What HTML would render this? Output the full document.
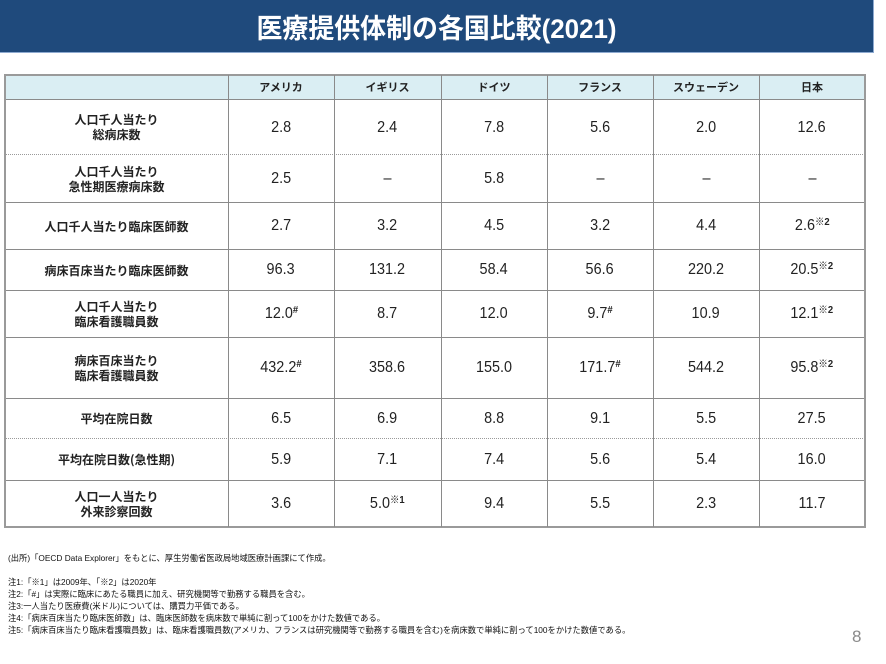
<!DOCTYPE html>
<html><head><meta charset="utf-8">
<style>
*{margin:0;padding:0;box-sizing:border-box}
body{width:886px;height:664px;background:#fff;position:relative;overflow:hidden;font-family:"Liberation Sans","Noto Sans CJK JP",sans-serif;color:#222}
.bar{position:absolute;left:0;top:0;width:874px;height:53px;background:#1f4a7c;border-right:1px solid #8eaad0;border-bottom:1px solid #8eaad0}
.title{position:absolute;left:0;top:0;width:873px;height:52px;display:flex;align-items:center;justify-content:center;color:#fff;font-weight:bold;font-size:27px;font-family:"Liberation Sans","Noto Sans CJK JP",sans-serif}
.title span{display:inline-block;transform:scaleX(0.96)}
.hdr{position:absolute;left:5px;top:75px;width:860px;height:24px;background:#daeef3}
.h{position:absolute;height:1px;background:#8a8a8a}
.d{position:absolute;height:0;border-top:1px dotted #9a9a9a}
.v{position:absolute;width:1px;background:#8a8a8a}
.c{position:absolute;display:flex;align-items:center;justify-content:center;text-align:center}
.lab{font-family:"Noto Sans CJK JP",sans-serif;font-weight:bold;font-size:12px;line-height:15px;color:#222}
.hd{font-family:"Noto Sans CJK JP",sans-serif;font-weight:bold;font-size:11px;color:#222}
.val{font-family:"Liberation Sans",sans-serif;font-size:16px;color:#222}
.val span{display:inline-block;transform:scaleX(0.9);white-space:nowrap}
.val sup{font-size:10.5px;font-weight:bold;vertical-align:top;line-height:1;position:relative;top:0px;font-family:"Liberation Sans","Noto Sans CJK JP",sans-serif}
.fn{position:absolute;left:8px;font-size:8.3px;line-height:11px;white-space:nowrap;color:#111;font-family:"Liberation Sans","Noto Sans CJK JP",sans-serif}
.pg{position:absolute;left:852px;top:627px;font-size:17px;color:#8a8a8a;font-family:"Liberation Sans",sans-serif}
</style></head><body>
<div class="bar"></div>
<div class="title"><span>医療提供体制の各国比較(2021)</span></div>

<div class="hdr"></div>
<div class="h" style="left:5px;top:74px;width:861px;height:2px;background:#9a9a9a"></div>
<div class="h" style="left:5px;top:99px;width:860px"></div>
<div class="d" style="left:5px;top:154px;width:860px"></div>
<div class="h" style="left:5px;top:202px;width:860px"></div>
<div class="h" style="left:5px;top:249px;width:860px"></div>
<div class="h" style="left:5px;top:290px;width:860px"></div>
<div class="h" style="left:5px;top:337px;width:860px"></div>
<div class="h" style="left:5px;top:398px;width:860px"></div>
<div class="d" style="left:5px;top:438px;width:860px"></div>
<div class="h" style="left:5px;top:480px;width:860px"></div>
<div class="h" style="left:5px;top:526px;width:861px;height:2px;background:#9a9a9a"></div>
<div class="v" style="left:4px;top:74px;width:2px;background:#9a9a9a;height:454px"></div>
<div class="v" style="left:228px;top:75px;height:452px"></div>
<div class="v" style="left:334px;top:75px;height:452px"></div>
<div class="v" style="left:441px;top:75px;height:452px"></div>
<div class="v" style="left:547px;top:75px;height:452px"></div>
<div class="v" style="left:653px;top:75px;height:452px"></div>
<div class="v" style="left:759px;top:75px;height:452px"></div>
<div class="v" style="left:864px;top:74px;height:454px;width:2px;background:#9a9a9a"></div>

<div class="c hd" style="left:228px;top:75px;width:106px;height:24px">アメリカ</div>
<div class="c hd" style="left:334px;top:75px;width:107px;height:24px">イギリス</div>
<div class="c hd" style="left:441px;top:75px;width:106px;height:24px">ドイツ</div>
<div class="c hd" style="left:547px;top:75px;width:106px;height:24px">フランス</div>
<div class="c hd" style="left:653px;top:75px;width:106px;height:24px">スウェーデン</div>
<div class="c hd" style="left:759px;top:75px;width:106px;height:24px">日本</div>

<div class="c lab" style="left:5px;top:100px;width:223px;height:54px">人口千人当たり<br>総病床数</div>
<div class="c lab" style="left:5px;top:155px;width:223px;height:47px">人口千人当たり<br>急性期医療病床数</div>
<div class="c lab" style="left:5px;top:203px;width:223px;height:46px">人口千人当たり臨床医師数</div>
<div class="c lab" style="left:5px;top:250px;width:223px;height:40px">病床百床当たり臨床医師数</div>
<div class="c lab" style="left:5px;top:291px;width:223px;height:46px">人口千人当たり<br>臨床看護職員数</div>
<div class="c lab" style="left:5px;top:338px;width:223px;height:60px">病床百床当たり<br>臨床看護職員数</div>
<div class="c lab" style="left:5px;top:399px;width:223px;height:39px">平均在院日数</div>
<div class="c lab" style="left:5px;top:439px;width:223px;height:41px">平均在院日数(急性期)</div>
<div class="c lab" style="left:5px;top:481px;width:223px;height:45px">人口一人当たり<br>外来診察回数</div>

<div class="c val" style="left:228px;top:101px;width:106px;height:54px"><span>2.8</span></div>
<div class="c val" style="left:334px;top:101px;width:107px;height:54px"><span>2.4</span></div>
<div class="c val" style="left:441px;top:101px;width:106px;height:54px"><span>7.8</span></div>
<div class="c val" style="left:547px;top:101px;width:106px;height:54px"><span>5.6</span></div>
<div class="c val" style="left:653px;top:101px;width:106px;height:54px"><span>2.0</span></div>
<div class="c val" style="left:759px;top:101px;width:106px;height:54px"><span>12.6</span></div>

<div class="c val" style="left:228px;top:155px;width:106px;height:47px"><span>2.5</span></div>
<div class="c val" style="left:334px;top:155px;width:107px;height:47px"><span>–</span></div>
<div class="c val" style="left:441px;top:155px;width:106px;height:47px"><span>5.8</span></div>
<div class="c val" style="left:547px;top:155px;width:106px;height:47px"><span>–</span></div>
<div class="c val" style="left:653px;top:155px;width:106px;height:47px"><span>–</span></div>
<div class="c val" style="left:759px;top:155px;width:106px;height:47px"><span>–</span></div>

<div class="c val" style="left:228px;top:203px;width:106px;height:46px"><span>2.7</span></div>
<div class="c val" style="left:334px;top:203px;width:107px;height:46px"><span>3.2</span></div>
<div class="c val" style="left:441px;top:203px;width:106px;height:46px"><span>4.5</span></div>
<div class="c val" style="left:547px;top:203px;width:106px;height:46px"><span>3.2</span></div>
<div class="c val" style="left:653px;top:203px;width:106px;height:46px"><span>4.4</span></div>
<div class="c val" style="left:759px;top:203px;width:106px;height:46px"><span>2.6<sup>※2</sup></span></div>

<div class="c val" style="left:228px;top:250px;width:106px;height:40px"><span>96.3</span></div>
<div class="c val" style="left:334px;top:250px;width:107px;height:40px"><span>131.2</span></div>
<div class="c val" style="left:441px;top:250px;width:106px;height:40px"><span>58.4</span></div>
<div class="c val" style="left:547px;top:250px;width:106px;height:40px"><span>56.6</span></div>
<div class="c val" style="left:653px;top:250px;width:106px;height:40px"><span>220.2</span></div>
<div class="c val" style="left:759px;top:250px;width:106px;height:40px"><span>20.5<sup>※2</sup></span></div>

<div class="c val" style="left:228px;top:291px;width:106px;height:46px"><span>12.0<sup>#</sup></span></div>
<div class="c val" style="left:334px;top:291px;width:107px;height:46px"><span>8.7</span></div>
<div class="c val" style="left:441px;top:291px;width:106px;height:46px"><span>12.0</span></div>
<div class="c val" style="left:547px;top:291px;width:106px;height:46px"><span>9.7<sup>#</sup></span></div>
<div class="c val" style="left:653px;top:291px;width:106px;height:46px"><span>10.9</span></div>
<div class="c val" style="left:759px;top:291px;width:106px;height:46px"><span>12.1<sup>※2</sup></span></div>

<div class="c val" style="left:228px;top:338px;width:106px;height:60px"><span>432.2<sup>#</sup></span></div>
<div class="c val" style="left:334px;top:338px;width:107px;height:60px"><span>358.6</span></div>
<div class="c val" style="left:441px;top:338px;width:106px;height:60px"><span>155.0</span></div>
<div class="c val" style="left:547px;top:338px;width:106px;height:60px"><span>171.7<sup>#</sup></span></div>
<div class="c val" style="left:653px;top:338px;width:106px;height:60px"><span>544.2</span></div>
<div class="c val" style="left:759px;top:338px;width:106px;height:60px"><span>95.8<sup>※2</sup></span></div>

<div class="c val" style="left:228px;top:399px;width:106px;height:39px"><span>6.5</span></div>
<div class="c val" style="left:334px;top:399px;width:107px;height:39px"><span>6.9</span></div>
<div class="c val" style="left:441px;top:399px;width:106px;height:39px"><span>8.8</span></div>
<div class="c val" style="left:547px;top:399px;width:106px;height:39px"><span>9.1</span></div>
<div class="c val" style="left:653px;top:399px;width:106px;height:39px"><span>5.5</span></div>
<div class="c val" style="left:759px;top:399px;width:106px;height:39px"><span>27.5</span></div>

<div class="c val" style="left:228px;top:439px;width:106px;height:41px"><span>5.9</span></div>
<div class="c val" style="left:334px;top:439px;width:107px;height:41px"><span>7.1</span></div>
<div class="c val" style="left:441px;top:439px;width:106px;height:41px"><span>7.4</span></div>
<div class="c val" style="left:547px;top:439px;width:106px;height:41px"><span>5.6</span></div>
<div class="c val" style="left:653px;top:439px;width:106px;height:41px"><span>5.4</span></div>
<div class="c val" style="left:759px;top:439px;width:106px;height:41px"><span>16.0</span></div>

<div class="c val" style="left:228px;top:481px;width:106px;height:45px"><span>3.6</span></div>
<div class="c val" style="left:334px;top:481px;width:107px;height:45px"><span>5.0<sup>※1</sup></span></div>
<div class="c val" style="left:441px;top:481px;width:106px;height:45px"><span>9.4</span></div>
<div class="c val" style="left:547px;top:481px;width:106px;height:45px"><span>5.5</span></div>
<div class="c val" style="left:653px;top:481px;width:106px;height:45px"><span>2.3</span></div>
<div class="c val" style="left:759px;top:481px;width:106px;height:45px"><span>11.7</span></div>

<div class="fn" style="top:553px">(出所)「OECD Data Explorer」をもとに、厚生労働省医政局地域医療計画課にて作成。</div>
<div class="fn" style="top:577px">注1:「※1」は2009年、「※2」は2020年</div>
<div class="fn" style="top:589px">注2:「#」は実際に臨床にあたる職員に加え、研究機関等で勤務する職員を含む。</div>
<div class="fn" style="top:601px">注3:一人当たり医療費(米ドル)については、購買力平価である。</div>
<div class="fn" style="top:613px">注4:「病床百床当たり臨床医師数」は、臨床医師数を病床数で単純に割って100をかけた数値である。</div>
<div class="fn" style="top:625px">注5:「病床百床当たり臨床看護職員数」は、臨床看護職員数(アメリカ、フランスは研究機関等で勤務する職員を含む)を病床数で単純に割って100をかけた数値である。</div>
<div class="pg">8</div>
</body></html>
